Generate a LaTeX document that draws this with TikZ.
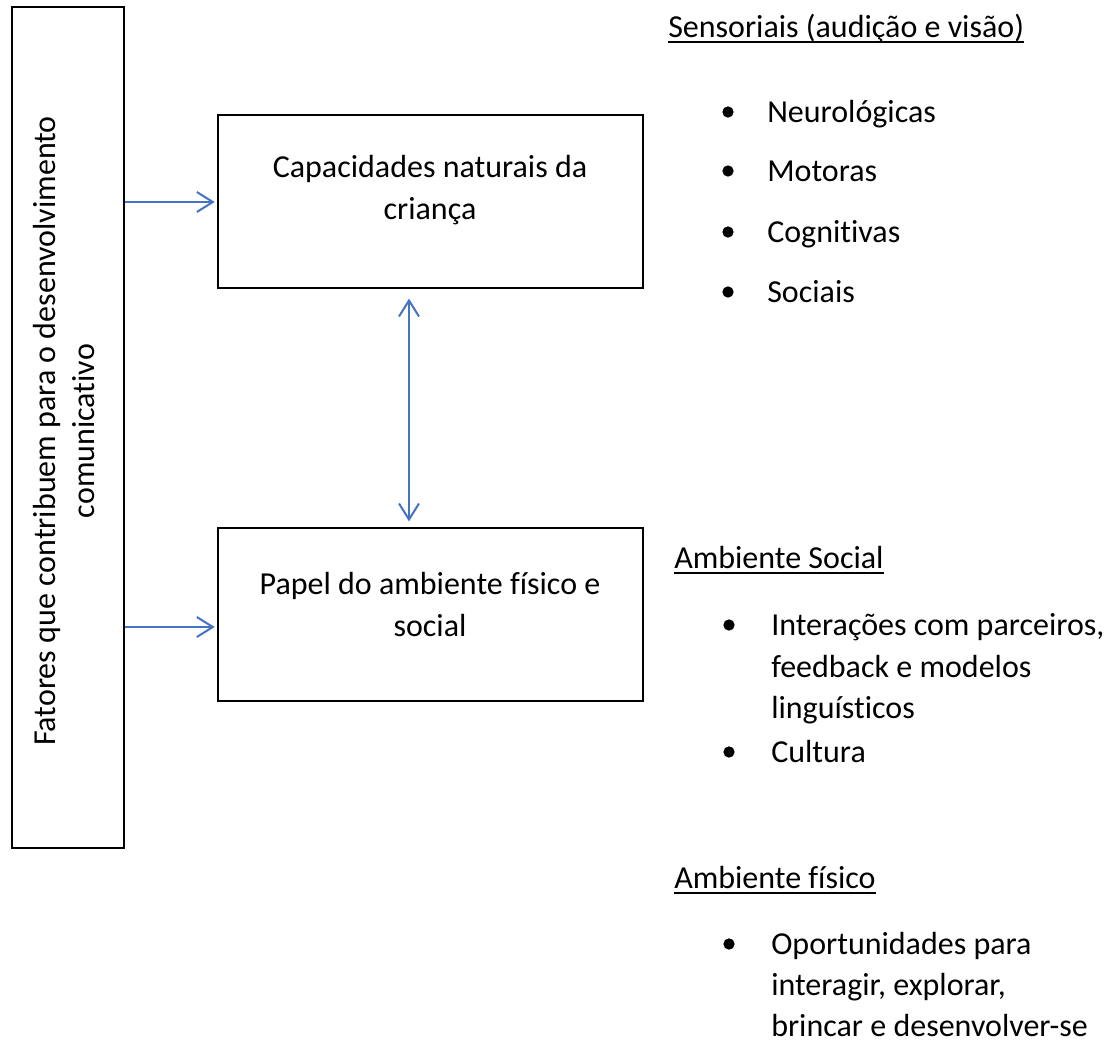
\documentclass[tikz,border=0pt]{standalone}
\usepackage{fontspec}
\setmainfont{Carlito}[Ligatures={NoCommon,NoRequired,NoContextual}]
\usetikzlibrary{arrows.meta}
\definecolor{arrowblue}{HTML}{4472C4}
\begin{document}
\begin{tikzpicture}[x=0.75pt,y=-0.75pt,
  box/.style={draw=black, line width=1.9pt, inner sep=0pt, fill=none},
  txt/.style={font=\fontsize{24}{31.5}\selectfont, inner sep=0pt, text=black},
  itemtxt/.style={txt, anchor=base west},
  dot/.style={circle, fill=black, inner sep=0pt, minimum size=8.5pt},
  conn/.style={draw=arrowblue, line width=1.5pt, -{Straight Barb[length=12pt,width=15pt,line width=1.5pt]}},
  dconn/.style={draw=arrowblue, line width=1.5pt, {Straight Barb[length=12pt,width=15pt,line width=1.5pt]}-{Straight Barb[length=12pt,width=15pt,line width=1.5pt]}},
  uline/.style={draw=black, line width=1.4pt}]
\useasboundingbox (0,0) rectangle (1117,1042);
\fill[white] (0,0) rectangle (1117,1042);

% left box
\node[box, minimum width=84pt, minimum height=630.75pt] (fat) at (68,427.5) {};
\node[txt, rotate=90, align=center, font=\fontsize{24}{29.5}\selectfont] (fattxt) at (64,431)
  {Fatores que contribuem para o desenvolvimento\\comunicativo};

% boxes
\node[box, minimum width=318.75pt, minimum height=129.75pt] (cap) at (430.5,201.5) {};
\node[txt, align=center] (captxt) at (430,190) {Capacidades naturais da\\criança};
\node[box, minimum width=318.75pt, minimum height=129.75pt] (pap) at (430.5,614.5) {};
\node[txt, align=center] (paptxt) at (430,604) {Papel do ambiente físico e\\social};

% connectors
\coordinate (a1) at (fat.east |- 0,202);
\coordinate (a2) at (fat.east |- 0,627);
\draw[conn, shorten >=1.5pt] (a1) -- (a1 -| cap.west);
\draw[conn, shorten >=1.5pt] (a2) -- (a2 -| pap.west);
\draw[dconn, shorten <=7pt, shorten >=4pt] (cap.south -| 409,0) -- (pap.north -| 409,0);

% right: Sensoriais
\node[itemtxt] (sens) at (668,37) {Sensoriais (audição e visão)};
\draw[uline] ([yshift=-3.75pt]sens.base west) -- ([yshift=-3.75pt]sens.base east);
\node[dot] (b1) at (728,112) {};
\node[itemtxt] (neu) at (767,122) {Neurológicas};
\node[dot] (b2) at (728,171) {};
\node[itemtxt] (mot) at (767,181) {Motoras};
\node[dot] (b3) at (728,232) {};
\node[itemtxt] (cog) at (767,242) {Cognitivas};
\node[dot] (b4) at (728,292) {};
\node[itemtxt] (soc) at (767,302) {Sociais};

% Ambiente Social
\node[itemtxt] (ams) at (674,568) {Ambiente Social};
\draw[uline] ([yshift=-3.75pt]ams.base west) -- ([yshift=-3.75pt]ams.base east);
\node[dot] (b5) at (729,625) {};
\node[itemtxt] (int1) at (771,635) {Interações com parceiros,};
\node[itemtxt] (int2) at (771,677) {feedback e modelos};
\node[itemtxt] (int3) at (771,718) {linguísticos};
\node[dot] (b6) at (729,752) {};
\node[itemtxt] (cul) at (771,762) {Cultura};

% Ambiente físico
\node[itemtxt] (amf) at (674,888) {Ambiente físico};
\draw[uline] ([yshift=-3.75pt]amf.base west) -- ([yshift=-3.75pt]amf.base east);
\node[dot] (b7) at (729,944) {};
\node[itemtxt] (op1) at (771,954) {Oportunidades para};
\node[itemtxt] (op2) at (771,995) {interagir, explorar,};
\node[itemtxt] (op3) at (771,1036) {brincar e desenvolver-se};
\end{tikzpicture}
\end{document}
